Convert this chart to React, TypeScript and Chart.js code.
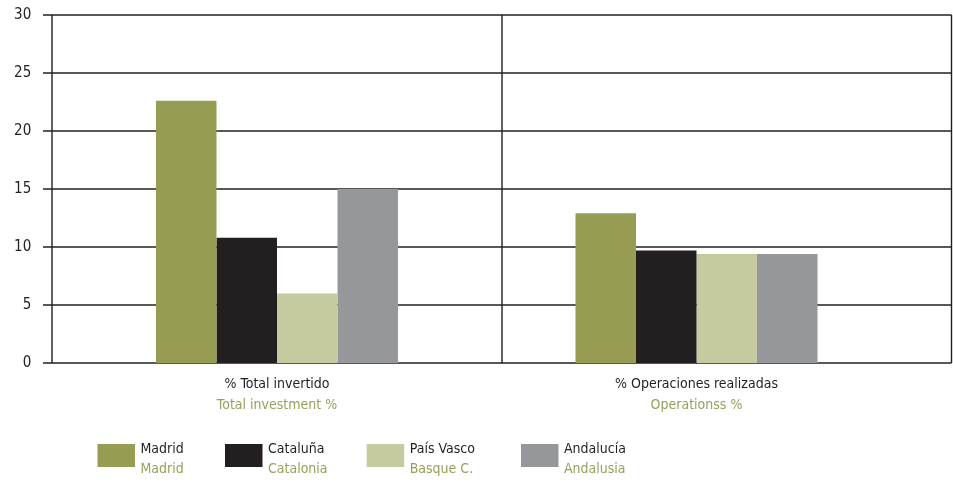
import React, { useEffect, useRef } from "react";
import { Chart, registerables } from "chart.js";

Chart.register(...registerables);

// ---- data ----
const categoriesEs = ["% Total invertido", "% Operaciones realizadas"];
const categoriesEn = ["Total investment %", "Operationss %"];
const seriesEs = ["Madrid", "Cataluña", "País Vasco", "Andalucía"];
const seriesEn = ["Madrid", "Catalonia", "Basque C.", "Andalusia"];
const madrid = [22.6, 12.9];
const cataluna = [10.8, 9.7];
const paisVasco = [6.0, 9.4];
const andalucia = [15.0, 9.4];
const yMin = 0;
const yMax = 30;
const yStep = 5;

// ---- style / layout ----
const FONT = '"DejaVu Sans Condensed", "DejaVu Sans", sans-serif';
const BLACK = "#231F20";
const GREEN_TEXT = "#98A05C";
const COLORS = ["#969D53", "#231F20", "#C5CAA0", "#96979A"];
const W = 953;
const H = 482;
const FRAME_TICK_LEFT = 43;
const FRAME_LEFT = 52;
const FRAME_MID = 502;
const FRAME_RIGHT = 951.5;
const LEGEND_X = [97.5, 225, 366.7, 521];
const LEGEND_Y = 444;
const LEGEND_BOX_W = 37.5;
const LEGEND_BOX_H = 23;

const framePlugin = {
  id: "frame",
  beforeDatasetsDraw(chart: any) {
    const { ctx, scales } = chart;
    const y = scales.y;
    ctx.save();
    ctx.strokeStyle = BLACK;
    ctx.lineWidth = 1.4;
    for (let v = yMin; v <= yMax; v += yStep) {
      const py = y.getPixelForValue(v);
      ctx.beginPath();
      ctx.moveTo(FRAME_TICK_LEFT, py);
      ctx.lineTo(FRAME_RIGHT, py);
      ctx.stroke();
    }
    const top = y.getPixelForValue(yMax);
    const bottom = y.getPixelForValue(yMin);
    [FRAME_LEFT, FRAME_MID, FRAME_RIGHT].forEach((px) => {
      ctx.beginPath();
      ctx.moveTo(px, top);
      ctx.lineTo(px, bottom);
      ctx.stroke();
    });
    ctx.restore();
  },
};

const legendPlugin = {
  id: "customLegend",
  afterDraw(chart: any) {
    const { ctx } = chart;
    ctx.save();
    chart.data.datasets.forEach((ds: any, i: number) => {
      const x = LEGEND_X[i];
      ctx.fillStyle = ds.backgroundColor;
      ctx.fillRect(x, LEGEND_Y, LEGEND_BOX_W, LEGEND_BOX_H);
      ctx.font = `14px ${FONT}`;
      ctx.textAlign = "left";
      ctx.textBaseline = "alphabetic";
      ctx.fillStyle = BLACK;
      ctx.fillText(seriesEs[i], x + LEGEND_BOX_W + 5.5, LEGEND_Y + 9);
      ctx.fillStyle = GREEN_TEXT;
      ctx.fillText(seriesEn[i], x + LEGEND_BOX_W + 5.5, LEGEND_Y + 29);
    });
    ctx.restore();
  },
};

export default function App() {
  const ref = useRef<HTMLCanvasElement | null>(null);

  useEffect(() => {
    document.body.style.margin = "0";
    const canvas = ref.current;
    if (!canvas) return;
    const values = [madrid, cataluna, paisVasco, andalucia];
    const chart = new Chart(canvas, {
      type: "bar",
      data: {
        labels: categoriesEs,
        datasets: seriesEs.map((name, i) => ({
          label: name,
          data: values[i],
          backgroundColor: COLORS[i],
          borderWidth: 0,
          categoryPercentage: 0.577,
          barPercentage: 1.0,
          xAxisID: "x",
        })),
      },
      options: {
        responsive: false,
        animation: false,
        events: [],
        layout: { padding: { left: 0, right: 46.75, top: 15, bottom: 68.6 } },
        plugins: { legend: { display: false }, tooltip: { enabled: false } },
        scales: {
          x: {
            type: "category",
            position: "bottom",
            weight: 0,
            offset: true,
            grid: { display: false, drawTicks: false },
            border: { display: false },
            ticks: {
              color: BLACK,
              font: { family: FONT, size: 14 },
              padding: 13,
              maxRotation: 0,
              autoSkip: false,
            },
            afterFit: (s: any) => {
              s.height = 29;
              s.paddingLeft = 0;
              s.paddingRight = 0;
            },
          },
          x2: {
            type: "category",
            position: "bottom",
            weight: 1,
            labels: categoriesEn,
            min: 0,
            max: 1,
            offset: true,
            grid: { display: false, drawTicks: false },
            border: { display: false },
            ticks: {
              color: GREEN_TEXT,
              font: { family: FONT, size: 14 },
              padding: 5,
              maxRotation: 0,
              autoSkip: false,
            },
            afterFit: (s: any) => {
              s.height = 21.4;
              s.paddingLeft = 0;
              s.paddingRight = 0;
            },
          },
          y: {
            type: "linear",
            min: yMin,
            max: yMax,
            grid: { display: false, drawTicks: false },
            border: { display: false },
            ticks: {
              stepSize: yStep,
              color: BLACK,
              font: { family: FONT, size: 15 },
              padding: 36,
            },
            afterFit: (s: any) => {
              s.width = 67.25;
              s.paddingTop = 0;
              s.paddingBottom = 0;
            },
          },
        },
      },
      plugins: [framePlugin, legendPlugin],
    } as any);
    return () => chart.destroy();
  }, []);

  return (
    <div style={{ width: W, height: H, background: "#fff" }}>
      <canvas ref={ref} width={W} height={H} style={{ display: "block" }} />
    </div>
  );
}
